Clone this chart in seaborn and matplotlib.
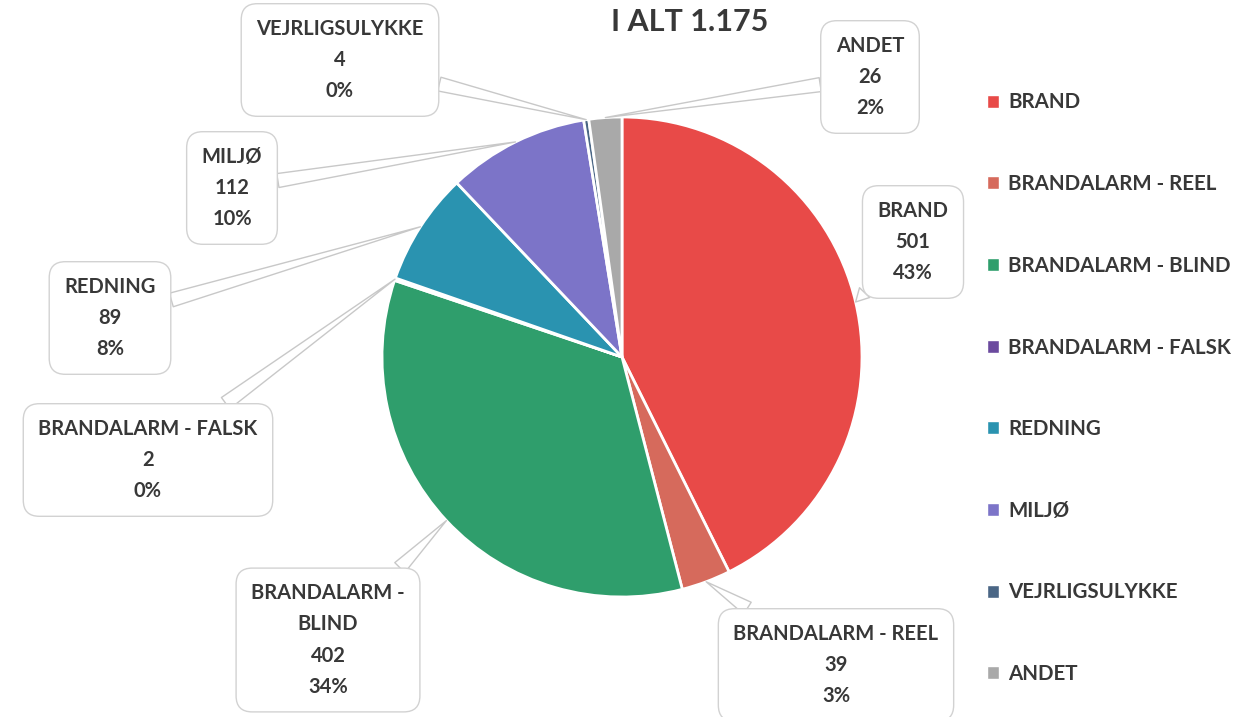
import matplotlib
matplotlib.use("Agg")
import matplotlib.pyplot as plt
from matplotlib.patches import Patch
import seaborn as sns
import numpy as np

# data
categories = ["BRAND", "BRANDALARM - REEL", "BRANDALARM - BLIND", "BRANDALARM - FALSK",
              "REDNING", "MILJØ", "VEJRLIGSULYKKE", "ANDET"]
box_labels = ["BRAND", "BRANDALARM - REEL", "BRANDALARM -\nBLIND", "BRANDALARM - FALSK",
              "REDNING", "MILJØ", "VEJRLIGSULYKKE", "ANDET"]
counts = [501, 39, 402, 2, 89, 112, 4, 26]
colors = ["#e84a48", "#d66a5c", "#2f9e6c", "#6b4a9e", "#2a93b0", "#7c74c8", "#4a6685", "#a9a9a9"]

# callout box centres (pixels from top-left)
label_x = [913, 836, 328, 148, 110, 232, 340, 870]
label_y = [242, 665, 640, 460, 318, 188, 60, 77]

W, H = 1243, 717
cx, cy, r = 622, 357, 240
text_col = "#383838"

sns.set_theme(style="white")
plt.rcParams["font.family"] = ["Lato", "DejaVu Sans"]
palette = sns.color_palette(colors)

fig = plt.figure(figsize=(W / 100, H / 100), dpi=100)
ax = fig.add_axes([0, 0, 1, 1])

wedges, _ = ax.pie(counts, colors=palette, startangle=90, counterclock=False,
                   center=(cx, H - cy), radius=r,
                   wedgeprops=dict(edgecolor="white", linewidth=2))
ax.set_xlim(0, W)
ax.set_ylim(0, H)
ax.set_aspect("auto")
ax.axis("off")

total = sum(counts)
for w, lab, n, lx, ly in zip(wedges, box_labels, counts, label_x, label_y):
    mid = np.deg2rad((w.theta1 + w.theta2) / 2)
    tip = (cx + r * np.cos(mid), H - cy + r * np.sin(mid))
    pct = round(n / total * 100)
    ax.annotate(f"{lab}\n{n}\n{pct}%", xy=tip, xytext=(lx, H - ly),
                ha="center", va="center", fontsize=14.5, fontweight="bold",
                color=text_col, linespacing=1.7, zorder=5,
                bbox=dict(boxstyle="round,pad=0.75,rounding_size=0.8",
                          fc="white", ec="#d2d2d2", lw=1),
                arrowprops=dict(arrowstyle="wedge,tail_width=0.7,shrink_factor=0.5",
                                fc="white", ec="#c8c8c8", lw=1, shrinkA=0, shrinkB=0))

handles = [Patch(facecolor=c) for c in palette]
fig.legend(handles, categories, loc="upper left",
           bbox_to_anchor=(968 / W, 1 - 74 / H), frameon=False,
           handlelength=0.6, handleheight=0.6, handletextpad=0.45,
           labelspacing=3.0, labelcolor=text_col,
           prop=dict(size=14.8, weight="bold"))

fig.text(690 / W, 1 - 22 / H, f"I ALT {total:,}".replace(",", "."),
         ha="center", va="center", fontsize=22, fontweight="bold", color=text_col)

fig.savefig("out.png", dpi=100, facecolor="white")
